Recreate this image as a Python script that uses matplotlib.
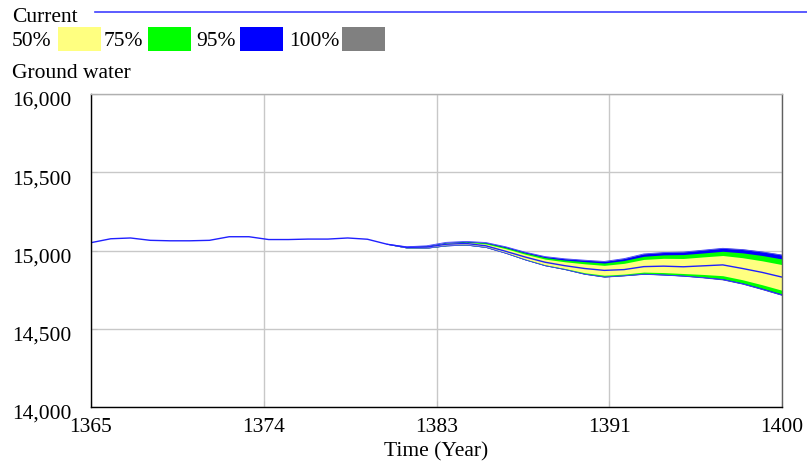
import matplotlib
matplotlib.use("Agg")
import matplotlib.pyplot as plt
import matplotlib.transforms as mtransforms
from matplotlib.patches import Rectangle
from matplotlib.lines import Line2D
from matplotlib.ticker import FuncFormatter

plt.rcParams['font.family'] = ['Liberation Serif', 'DejaVu Serif']

years = list(range(1365, 1401))
current = [15050, 15075, 15080, 15065, 15062, 15062, 15065, 15088, 15088, 15070,
           15070, 15073, 15073, 15080, 15072, 15040, 15020, 15022, 15040, 15045,
           15030, 14995, 14958, 14925, 14903, 14885, 14873, 14878, 14897, 14900,
           14896, 14902, 14908, 14885, 14860, 14830]

# band boundaries from 1380 to 1400 (before 1380 the runs coincide with "current")
band_years = list(range(1380, 1401))
p100_hi = [15040, 15024, 15030, 15052, 15058, 15052, 15025, 14990, 14962, 14948, 14940,
           14932, 14950, 14980, 14990, 14993, 15005, 15017, 15010, 14995, 14975]
p95_hi = [15040, 15024, 15030, 15052, 15058, 15051, 15024, 14989, 14961, 14947, 14938,
          14930, 14948, 14978, 14987, 14990, 15002, 15014, 15006, 14991, 14971]
p75_hi = [15040, 15023, 15028, 15050, 15055, 15048, 15019, 14984, 14955, 14939, 14929,
          14920, 14936, 14963, 14972, 14974, 14984, 14995, 14985, 14968, 14946]
p50_hi = [15040, 15022, 15026, 15047, 15052, 15042, 15012, 14976, 14945, 14928, 14915,
          14905, 14918, 14943, 14950, 14949, 14959, 14968, 14954, 14934, 14910]
p50_lo = [15040, 15017, 15017, 15033, 15038, 15023, 14986, 14945, 14909, 14885, 14858,
          14842, 14849, 14862, 14859, 14853, 14847, 14839, 14813, 14781, 14746]
p75_lo = [15040, 15016, 15016, 15031, 15036, 15021, 14984, 14941, 14905, 14880, 14851,
          14833, 14841, 14852, 14848, 14841, 14831, 14820, 14793, 14759, 14722]
p95_lo = [15040, 15016, 15015, 15030, 15035, 15020, 14983, 14940, 14903, 14879, 14849,
          14831, 14839, 14849, 14844, 14837, 14827, 14814, 14787, 14752, 14715]
p100_lo = [15040, 15016, 15015, 15030, 15035, 15020, 14983, 14940, 14903, 14878, 14848,
           14830, 14838, 14848, 14843, 14836, 14825, 14812, 14785, 14750, 14713]

x_ticks = [1365, 1373.75, 1382.5, 1391.25, 1400]
x_tick_labels = ["1365", "1374", "1383", "1391", "1400"]
y_ticks = [14000, 14500, 15000, 15500, 16000]

band_labels = ["50%", "75%", "95%", "100%"]
band_colors = ["#ffff80", "#00ff00", "#0000ff", "#808080"]

W, H = 807, 464
FS = 15.5
fig = plt.figure(figsize=(W / 100, H / 100), dpi=100)
ax = fig.add_axes([91 / W, 1 - 408 / H, (782 - 91) / W, (408 - 95) / H])

# bands (outermost first)
ax.fill_between(band_years, p100_lo, p100_hi, color=band_colors[3], lw=0)
ax.fill_between(band_years, p95_lo, p95_hi, color=band_colors[2], lw=0)
ax.fill_between(band_years, p75_lo, p75_hi, color=band_colors[1], lw=0)
ax.fill_between(band_years, p50_lo, p50_hi, color=band_colors[0], lw=0)
ax.plot(band_years, p95_hi, color="#4040ff", lw=0.6)
ax.plot(band_years, p95_lo, color="#4040ff", lw=0.6)
ax.plot(years, current, color="#2020ff", lw=1.0)

ax.set_xlim(1365, 1400)
ax.set_ylim(14000, 16000)
ax.set_xticks(x_ticks)
ax.set_xticklabels(x_tick_labels)
ax.set_yticks(y_ticks)
ax.yaxis.set_major_formatter(FuncFormatter(lambda v, p: f"{int(v):,}"))
ax.grid(True, color="#c8c8c8", lw=1)
ax.set_axisbelow(True)
ax.tick_params(axis='both', labelsize=FS, direction='in', length=4, color="#c0c0c0")
ax.tick_params(axis='x', pad=7)
ax.tick_params(axis='y', pad=14)
ax.spines['left'].set_color('black')
ax.spines['bottom'].set_color('black')
ax.spines['top'].set_color('#b0b0b0')
ax.spines['right'].set_color('#606060')
for s in ax.spines.values():
    s.set_linewidth(1)
ax.set_xlabel("Time (Year)", fontsize=FS, labelpad=4)

# shift y tick labels slightly down, as in the reference
off = mtransforms.ScaledTranslation(0, -4 / 100, fig.dpi_scale_trans)
for lab in ax.get_yticklabels():
    lab.set_transform(lab.get_transform() + off)

# legend area
def fx(px):
    return px / W

def fy(py):
    return 1 - py / H

fig.text(fx(12), fy(17), "Current", fontsize=FS, va='center', ha='left')
fig.add_artist(Line2D([fx(95), fx(807)], [fy(13), fy(13)], color="#4040ff", lw=1.2))
label_x = [12, 104, 196, 289]
box_x = [58, 148, 240, 342]
for lab, col, lx, bx in zip(band_labels, band_colors, label_x, box_x):
    fig.text(fx(lx), fy(41), lab, fontsize=FS, va='center', ha='left')
    fig.add_artist(Rectangle((fx(bx), fy(52)), 43 / W, 24 / H, color=col, lw=0))
fig.text(fx(12), fy(73), "Ground water", fontsize=FS, va='center', ha='left')

fig.savefig("out.png", dpi=100)
